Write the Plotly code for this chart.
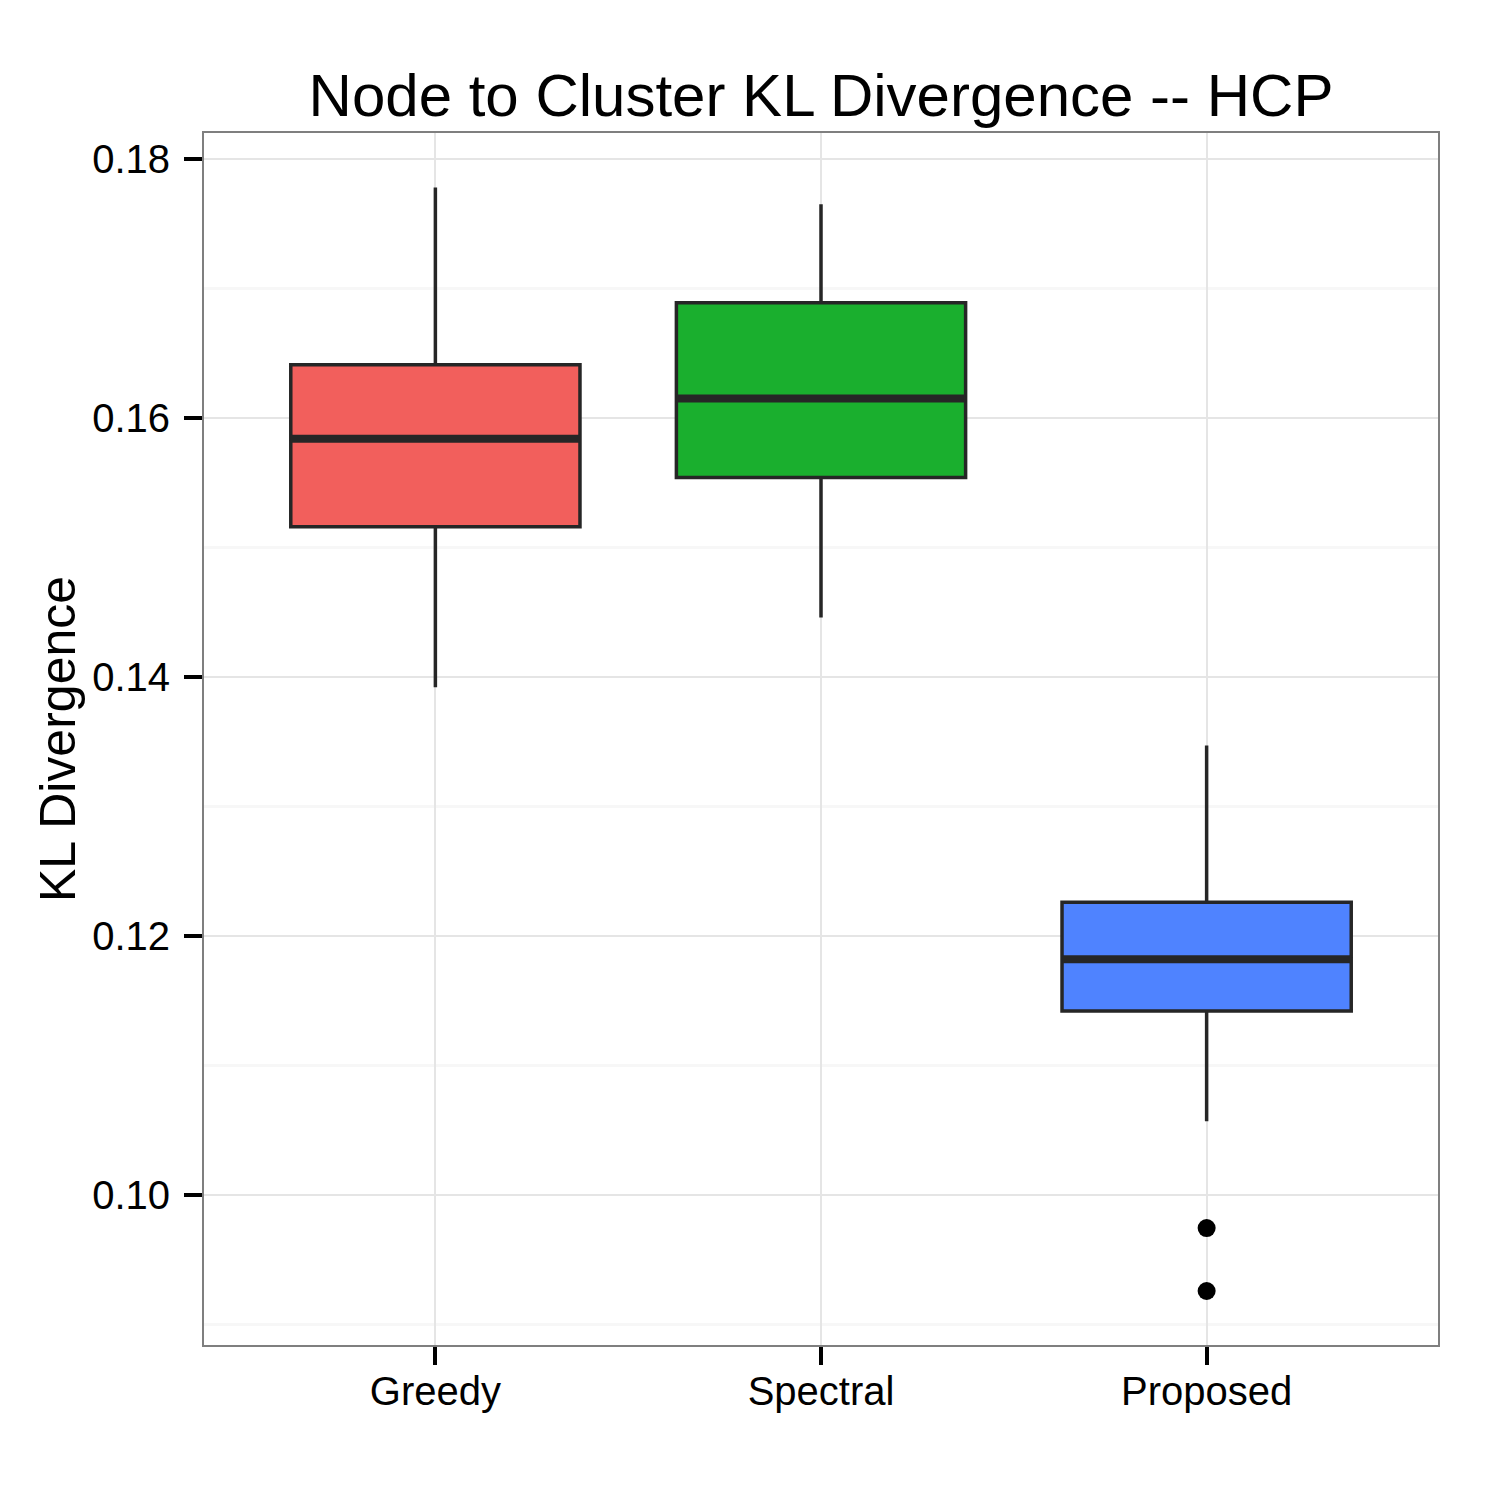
import plotly.graph_objects as go

categories = ["Greedy", "Spectral", "Proposed"]
lower_whisker = [0.1392, 0.1446, 0.1057]
q1_vals = [0.1516, 0.1554, 0.1142]
median_vals = [0.1584, 0.1615, 0.1182]
q3_vals = [0.1641, 0.1689, 0.1226]
upper_whisker = [0.1778, 0.1765, 0.1347]
outlier_cat = ["Proposed", "Proposed"]
outlier_vals = [0.09745, 0.09259]
fill_colors = ["#F25F5C", "#1AAF2E", "#4F83FF"]

y_ticks = [0.10, 0.12, 0.14, 0.16, 0.18]
y_minor = [0.09, 0.11, 0.13, 0.15, 0.17]

BOX_W = 0.75
LINE_C = "#262626"
FONT = "Liberation Sans, Arial, Helvetica, sans-serif"

fig = go.Figure()
for i, cat in enumerate(categories):
    fig.add_trace(go.Box(
        x=[i], q1=[q1_vals[i]], median=[median_vals[i]], q3=[q3_vals[i]],
        lowerfence=[lower_whisker[i]], upperfence=[upper_whisker[i]],
        width=BOX_W, fillcolor=fill_colors[i],
        line=dict(color=LINE_C, width=3.5), whiskerwidth=0,
        boxpoints=False, showlegend=False, name=cat,
    ))
    fig.add_trace(go.Scatter(
        x=[i - BOX_W / 2, i + BOX_W / 2], y=[median_vals[i], median_vals[i]],
        mode="lines", line=dict(color=LINE_C, width=8), showlegend=False,
        hoverinfo="skip",
    ))

fig.add_trace(go.Scatter(
    x=[categories.index(c) for c in outlier_cat], y=outlier_vals,
    mode="markers", marker=dict(color="black", size=18), showlegend=False,
))

fig.update_layout(
    width=1500, height=1500,
    margin=dict(l=204, r=62, t=133, b=155),
    paper_bgcolor="white", plot_bgcolor="white",
    font=dict(family=FONT, color="black"),
    title=dict(text="Node to Cluster KL Divergence -- HCP", x=0.5, xref="paper",
               y=1 - 95 / 1500, yref="container", yanchor="middle", xanchor="center",
               font=dict(size=60, color="black", family=FONT)),
)
fig.update_xaxes(
    range=[-0.6, 2.6], tickmode="array", tickvals=list(range(len(categories))),
    ticktext=categories, tickfont=dict(size=40, color="black"),
    showgrid=True, gridcolor="#E5E5E5", gridwidth=2, zeroline=False,
    showline=True, linecolor="#7F7F7F", linewidth=2, mirror=True,
    ticks="outside", ticklen=18, tickwidth=4, tickcolor="black",
    ticklabelstandoff=-8,
)
fig.update_yaxes(
    range=[0.08842, 0.182], tickmode="array", tickvals=y_ticks,
    ticktext=[f"{v:.2f}" for v in y_ticks], tickfont=dict(size=40, color="black"),
    showgrid=True, gridcolor="#E5E5E5", gridwidth=2, zeroline=False,
    minor=dict(tickmode="array", tickvals=y_minor, showgrid=True,
               gridcolor="#F7F7F7", gridwidth=3, ticks=""),
    showline=True, linecolor="#7F7F7F", linewidth=2, mirror=True,
    ticks="outside", ticklen=18, tickwidth=4, tickcolor="black",
    ticklabelstandoff=6,
    title=dict(text="KL Divergence", font=dict(size=50, color="black"), standoff=1),
)

fig.write_html("out.html")
